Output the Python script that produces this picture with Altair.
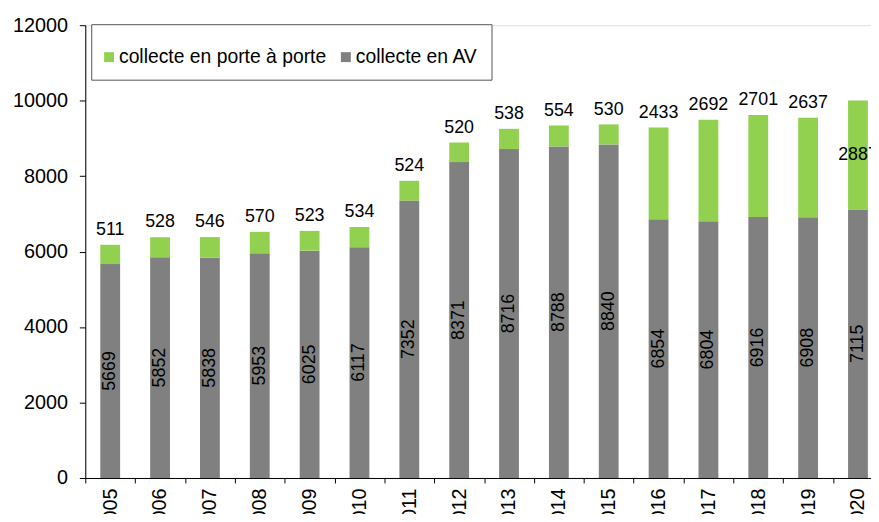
import altair as alt
import pandas as pd

years = ["2005", "2006", "2007", "2008", "2009", "2010", "2011", "2012",
         "2013", "2014", "2015", "2016", "2017", "2018", "2019", "2020"]
av = [5669, 5852, 5838, 5953, 6025, 6117, 7352, 8371,
      8716, 8788, 8840, 6854, 6804, 6916, 6908, 7115]
pap = [511, 528, 546, 570, 523, 534, 524, 520,
       538, 554, 530, 2433, 2692, 2701, 2637, 2887]

S_PAP = "collecte en porte à porte"
S_AV = "collecte en AV"

long_rows = []
for y, a, p in zip(years, av, pap):
    long_rows.append({"year": y, "serie": S_AV, "value": a, "ord": 0})
    long_rows.append({"year": y, "serie": S_PAP, "value": p, "ord": 1})
long_df = pd.DataFrame(long_rows)

wide_df = pd.DataFrame({"year": years, "av": av, "pap": pap})
wide_df["total"] = wide_df["av"] + wide_df["pap"]
wide_df["av_mid"] = wide_df["av"] / 2
wide_df["pap_mid"] = wide_df["av"] + wide_df["pap"] / 2

FONT = "Liberation Sans"

x_enc = alt.X("year:N", sort=years, title=None,
              scale=alt.Scale(paddingInner=0, paddingOuter=0),
              axis=alt.Axis(labelAngle=-90, labelFontSize=20, labelColor="black",
                            labelFont=FONT, tickColor="black", domainColor="black",
                            tickBand="extent", tickSize=5, labelPadding=5,
                            domainWidth=1, tickWidth=1))
y_scale = alt.Scale(domain=[0, 12000], nice=False)

# small square drawn at the left of a tall legend symbol box (gives the legend frame its height)
legend_symbol = "M-1,-0.25H-0.5V0.25H-1Z"

bars = alt.Chart(long_df).mark_bar(size=20).encode(
    x=x_enc,
    y=alt.Y("value:Q", stack="zero", scale=y_scale, title=None,
            axis=alt.Axis(values=list(range(0, 12001, 2000)), grid=False, format="d",
                          labelFontSize=20, labelColor="black", labelFont=FONT,
                          tickColor="black", domainColor="black", tickSize=6,
                          labelPadding=12, domainWidth=1, tickWidth=1)),
    color=alt.Color("serie:N",
                    scale=alt.Scale(domain=[S_PAP, S_AV], range=["#92D050", "#808080"]),
                    legend=alt.Legend(title=None, orient="none", legendX=6, legendY=-1,
                                      direction="horizontal", symbolType=legend_symbol,
                                      symbolSize=1600, symbolStrokeWidth=0,
                                      labelFontSize=19.5, labelFont=FONT, labelColor="black",
                                      labelOffset={"expr": "-25"}, columnPadding=14,
                                      strokeColor="#555555", padding=13,
                                      fillColor="white", labelLimit=400)),
    order=alt.Order("ord:Q", sort="ascending"),
)

base = alt.Chart(wide_df)

av_text = base.mark_text(angle=270, fontSize=18, font=FONT, color="black",
                         align="center", baseline="middle").encode(
    x=alt.X("year:N", sort=years),
    y=alt.Y("av_mid:Q", scale=y_scale),
    text=alt.Text("av:Q", format="d"),
)

pap_top = base.transform_filter("datum.year != '2020'").mark_text(
    fontSize=18, font=FONT, color="black", align="center", baseline="bottom", dy=-6).encode(
    x=alt.X("year:N", sort=years),
    y=alt.Y("total:Q", scale=y_scale),
    text=alt.Text("pap:Q", format="d"),
)

pap_in = base.transform_filter("datum.year == '2020'").mark_text(
    fontSize=18, font=FONT, color="black", align="center", baseline="middle").encode(
    x=alt.X("year:N", sort=years),
    y=alt.Y("pap_mid:Q", scale=y_scale),
    text=alt.Text("pap:Q", format="d"),
)

chart = alt.layer(bars, av_text, pap_top, pap_in).properties(
    width=805, height=457,
    autosize=alt.AutoSizeParams(type="none"),
    padding={"left": 78, "top": 15, "right": -12, "bottom": 34},
).configure_view(stroke=None).configure(background="white")

chart.save("out.html", embed_options={"renderer": "svg", "actions": False})
